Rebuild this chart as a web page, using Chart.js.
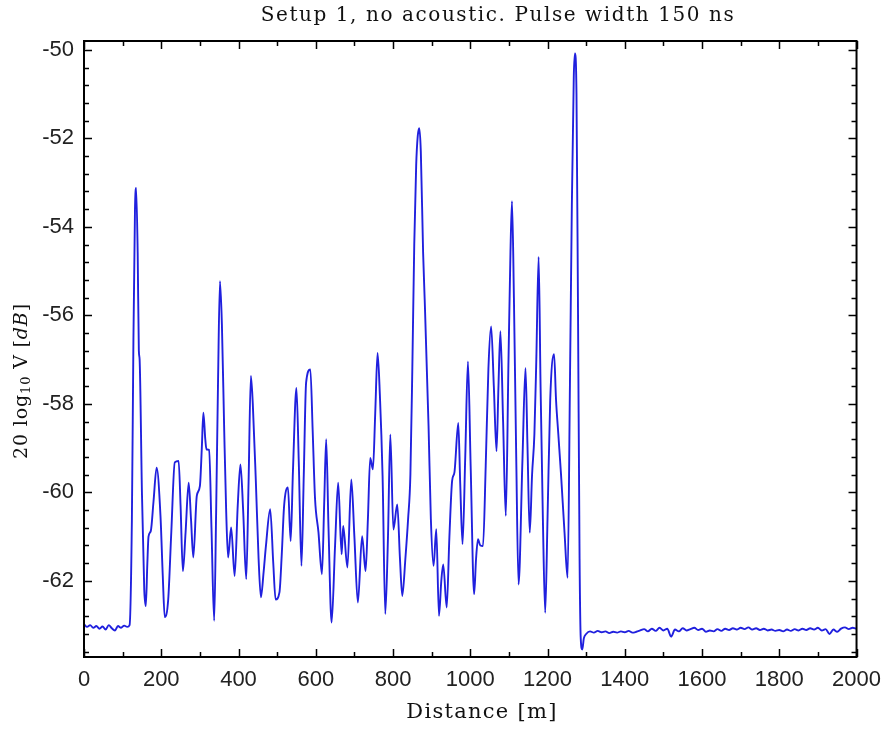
<!DOCTYPE html>
<html>
<head>
<meta charset="utf-8">
<script src="https://cdn.jsdelivr.net/npm/chart.js@4.4.1/dist/chart.umd.min.js"></script>
<style>
  html, body { margin: 0; padding: 0; background: #fff; }
  #wrap { width: 891px; height: 729px; }
</style>
</head>
<body>
<div id="wrap"><canvas id="otdr" width="891" height="729"></canvas></div>
<script>
// OTDR trace: distance [m] and level [dB]
var distance = [
  0, 8, 16, 24, 32, 40, 48, 56, 64, 72, 80, 88, 96, 104, 112, 118,
  124, 128, 132, 135, 139, 142, 144, 150, 156, 160, 164, 167, 173, 180, 188, 198,
  204, 209, 218, 226, 235, 245, 250, 256, 263, 271, 277, 283, 292, 300, 305, 309,
  314, 317, 324, 330, 337, 342, 347, 352, 357, 363, 368, 373, 381, 390, 398, 405,
  412, 420, 426, 432, 437, 445, 452, 458, 465, 471, 482, 490, 496, 506, 512, 518,
  528, 535, 541, 550, 556, 563, 569, 575, 586, 592, 598, 607, 616, 622, 627, 633,
  641, 650, 658, 667, 671, 682, 692, 700, 709, 720, 729, 735, 741, 748, 754, 760,
  766, 773, 780, 787, 793, 801, 811, 818, 824, 832, 839, 845, 850, 855, 860, 864,
  868, 872, 878, 882, 892, 898, 905, 912, 919, 925, 930, 939, 946, 953, 959, 969,
  974, 980, 987, 994, 1001, 1010, 1015, 1020, 1026, 1033, 1040, 1047, 1054, 1061, 1068, 1073,
  1078, 1085, 1092, 1099, 1104, 1108, 1113, 1119, 1125, 1135, 1143, 1148, 1154, 1160, 1166, 1171,
  1177, 1182, 1188, 1194, 1200, 1207, 1217, 1222, 1228, 1235, 1244, 1252, 1258, 1263, 1268, 1271,
  1275, 1279, 1283, 1286, 1290, 1294,
  1300, 1310, 1320, 1330, 1340, 1350, 1360, 1370, 1380, 1390, 1400, 1410, 1420, 1430, 1440, 1450,
  1460, 1470, 1480, 1490, 1500, 1510, 1520, 1530, 1540, 1550, 1560, 1570, 1580, 1590, 1600, 1610,
  1620, 1630, 1640, 1650, 1660, 1670, 1680, 1690, 1700, 1710, 1720, 1730, 1740, 1750, 1760, 1770,
  1780, 1790, 1800, 1810, 1820, 1830, 1840, 1850, 1860, 1870, 1880, 1890, 1900, 1910, 1920, 1930,
  1940, 1950, 1960, 1970, 1980, 1990, 2000
];
var level = [
  -62.98, -63.04, -63.0, -63.06, -63.02, -63.08, -63.03, -63.1, -63.0, -63.07, -63.12, -63.02, -63.06, -63.01, -63.04, -63.0,
  -60.6, -56.5, -53.6, -53.12, -54.6, -56.8, -57.0, -60.0, -62.2, -62.57, -61.6, -61.0, -60.87, -60.2, -59.44, -60.53,
  -61.9, -62.82, -62.42, -60.9, -59.32, -59.29, -60.3, -61.78, -60.9, -59.78, -60.6, -61.47, -60.08, -59.86, -59.0, -58.2,
  -58.8, -59.03, -59.04, -60.8, -62.9, -60.5, -57.5, -55.23, -56.2, -58.6, -60.4, -61.47, -60.79, -61.89, -60.3, -59.37,
  -60.4, -61.96, -59.8, -57.37, -58.0, -59.78, -61.5, -62.37, -61.8, -61.21, -60.38, -61.6, -62.42, -62.26, -61.4, -60.31,
  -59.89, -61.1, -59.5, -57.64, -59.3, -61.66, -59.6, -57.52, -57.22, -58.6, -60.12, -60.9, -61.85, -60.2, -58.8, -60.8,
  -62.94, -61.2, -59.78, -61.4, -60.76, -61.7, -59.71, -61.0, -62.49, -60.99, -61.78, -60.6, -59.22, -59.48, -58.2, -56.85,
  -57.8, -59.63, -62.75, -61.0, -58.69, -60.84, -60.27, -61.5, -62.34, -61.5, -60.61, -59.6, -57.2, -54.4, -52.6, -51.95,
  -51.77, -52.3, -54.6, -55.64, -58.5, -60.6, -61.66, -60.83, -62.79, -62.0, -61.63, -62.6, -61.0, -59.74, -59.55, -58.43,
  -59.8, -61.17, -59.2, -57.04, -59.4, -62.3, -61.5, -61.06, -61.2, -61.21, -59.4, -57.2, -56.25, -57.6, -59.07, -57.6,
  -56.36, -58.4, -60.53, -57.0, -54.6, -53.42, -55.6, -59.2, -62.08, -59.3, -57.19, -58.9, -60.91, -59.6, -58.69, -57.0,
  -54.68, -57.6, -60.6, -62.72, -60.6, -57.9, -56.88, -57.9, -58.69, -59.6, -60.9, -61.93, -57.6, -53.5, -50.6, -50.08,
  -51.0, -56.0, -61.5, -63.3, -63.55, -63.3,
  -63.2, -63.14, -63.17, -63.13, -63.16, -63.14, -63.18, -63.15, -63.17, -63.14, -63.16, -63.13, -63.17, -63.15, -63.12, -63.09,
  -63.14, -63.08, -63.13, -63.06, -63.12, -63.08, -63.26, -63.1, -63.14, -63.07, -63.12, -63.09, -63.06, -63.11, -63.08, -63.15,
  -63.12, -63.14, -63.09, -63.13, -63.08, -63.11, -63.07, -63.1, -63.06, -63.09, -63.05, -63.1, -63.07, -63.11, -63.08, -63.12,
  -63.1, -63.13, -63.11, -63.14, -63.1, -63.13, -63.09, -63.12, -63.08, -63.11, -63.07, -63.1, -63.06, -63.12, -63.09, -63.2,
  -63.1, -63.15, -63.08, -63.05, -63.09, -63.06, -63.08
];

var xTicks = [0, 200, 400, 600, 800, 1000, 1200, 1400, 1600, 1800, 2000];
var yTicks = [-62, -60, -58, -56, -54, -52, -50];

var titleText = 'Setup 1, no acoustic. Pulse width 150 ns';
var xTitle = 'Distance [m]';

var lineColor = '#2020de';
var serif = '"DejaVu Serif", "Liberation Serif", serif';
var sans = '"Liberation Sans", Arial, sans-serif';

var points = distance.map(function (d, i) { return { x: d, y: level[i] }; });

// draw text stretched with letter spacing so it covers a given width
function spacedText(ctx, text, x, y, width, align) {
  ctx.letterSpacing = '0px';
  var w = ctx.measureText(text).width;
  var sp = (width - w) / (text.length - 1);
  ctx.letterSpacing = sp + 'px';
  var w2 = ctx.measureText(text).width;
  var start = align === 'center' ? x - w2 / 2 : x;
  ctx.textAlign = 'left';
  ctx.fillText(text, start, y);
  ctx.letterSpacing = '0px';
}

// Mathematica-like frame: box with inward ticks on all four sides
var frame = {
  id: 'frame',
  afterDraw: function (chart) {
    var ctx = chart.ctx;
    var a = chart.chartArea;
    var xs = chart.scales.x, ys = chart.scales.y;
    ctx.save();
    ctx.strokeStyle = '#000';
    ctx.lineWidth = 1.5;
    ctx.beginPath();
    for (var v = 0; v <= 2000; v += 100) {
      var px = Math.round(xs.getPixelForValue(v)) + 0.5;
      var len = v % 200 === 0 ? 8 : 5;
      ctx.moveTo(px, a.bottom); ctx.lineTo(px, a.bottom - len);
      ctx.moveTo(px, a.top); ctx.lineTo(px, a.top + len);
    }
    for (var k = 0; k <= 34; k++) {
      var val = -50 - k * 0.4;
      var py = Math.round(ys.getPixelForValue(val)) + 0.5;
      var l2 = k % 5 === 0 ? 8 : 5;
      ctx.moveTo(a.left, py); ctx.lineTo(a.left + l2, py);
      ctx.moveTo(a.right, py); ctx.lineTo(a.right - l2, py);
    }
    ctx.stroke();
    ctx.lineWidth = 2;
    ctx.strokeRect(a.left, a.top, a.right - a.left, a.bottom - a.top);

    // title and axis titles
    ctx.fillStyle = '#111';
    ctx.textBaseline = 'middle';
    ctx.font = '20px ' + serif;
    spacedText(ctx, titleText, 498, 16, 473, 'center');
    ctx.font = '21px ' + serif;
    spacedText(ctx, xTitle, 482, 713, 150, 'center');

    // y title: 20 log10 V [dB], rotated
    ctx.translate(22, 381);
    ctx.rotate(-Math.PI / 2);
    var parts = [
      { t: '20 log', f: '19px ' + serif, dy: 0 },
      { t: '10', f: '13px ' + serif, dy: 5 },
      { t: ' V [', f: '19px ' + serif, dy: 0 },
      { t: 'dB', f: 'italic 19px ' + serif, dy: 0 },
      { t: ']', f: '19px ' + serif, dy: 0 }
    ];
    var total = 0;
    parts.forEach(function (p) { ctx.font = p.f; p.w = ctx.measureText(p.t).width; total += p.w; });
    var gap = (155 - total) / 14;
    ctx.letterSpacing = gap + 'px';
    total = 0;
    parts.forEach(function (p) { ctx.font = p.f; p.w = ctx.measureText(p.t).width; total += p.w; });
    var cx = -total / 2;
    ctx.textAlign = 'left';
    parts.forEach(function (p) {
      ctx.font = p.f;
      ctx.fillText(p.t, cx, p.dy);
      cx += p.w;
    });
    ctx.restore();
  }
};

var ctx = document.getElementById('otdr').getContext('2d');
var traceChart = new Chart(ctx, {
  type: 'line',
  data: {
    datasets: [{
      data: points,
      borderColor: lineColor,
      borderWidth: 1.9,
      pointRadius: 0,
      fill: false,
      cubicInterpolationMode: 'monotone'
    }]
  },
  options: {
    responsive: false,
    animation: false,
    devicePixelRatio: 1,
    layout: { padding: { top: 41, right: 24, left: 0, bottom: 0 } },
    plugins: {
      legend: { display: false },
      tooltip: { enabled: false },
      title: { display: false }
    },
    scales: {
      x: {
        type: 'linear',
        min: 0,
        max: 2000,
        grid: { display: false, drawTicks: false },
        border: { display: false },
        afterBuildTicks: function (s) { s.ticks = xTicks.map(function (v) { return { value: v }; }); },
        afterFit: function (s) { s.height = 72; },
        ticks: {
          padding: 10,
          color: '#222',
          maxRotation: 0,
          font: { family: sans, size: 22 },
          callback: function (v) { return String(v); }
        }
      },
      y: {
        type: 'linear',
        min: -63.72,
        max: -49.8,
        grid: { display: false, drawTicks: false },
        border: { display: false },
        afterBuildTicks: function (s) { s.ticks = yTicks.map(function (v) { return { value: v }; }); },
        afterFit: function (s) { s.width = 84; },
        ticks: {
          padding: 10,
          color: '#222',
          font: { family: sans, size: 22 },
          callback: function (v) { return String(v); }
        }
      }
    }
  },
  plugins: [frame]
});
</script>
</body>
</html>
